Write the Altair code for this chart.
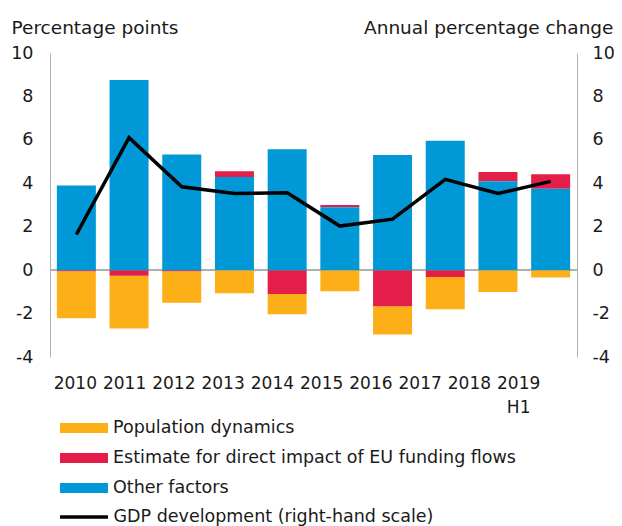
import altair as alt
import pandas as pd

years = ["2010", "2011", "2012", "2013", "2014", "2015", "2016", "2017", "2018", "2019 H1"]
population = [-2.17, -2.43, -1.45, -1.06, -0.93, -0.97, -1.30, -1.48, -1.01, -0.34]
eu_funds = [-0.05, -0.26, -0.05, 0.27, -1.10, 0.10, -1.66, -0.32, 0.43, 0.67]
other = [3.90, 8.76, 5.33, 4.29, 5.57, 2.90, 5.30, 5.96, 4.09, 3.75]
gdp = [1.64, 6.10, 3.84, 3.53, 3.56, 2.03, 2.35, 4.18, 3.53, 4.09]

S_POP = "Population dynamics"
S_EU = "Estimate for direct impact of EU funding flows"
S_OTH = "Other factors"
S_GDP = "GDP development (right-hand scale)"

bar_names = [S_POP, S_EU, S_OTH]
bar_colors = ["#FCAF17", "#E31E48", "#0098D6"]
stack_rank = {S_OTH: 0, S_EU: 1, S_POP: 2}

rows = []
for name, vals in [(S_POP, population), (S_EU, eu_funds), (S_OTH, other)]:
    for y, v in zip(years, vals):
        rows.append({"year": y, "series": name, "value": v, "rank": stack_rank[name]})
bars_df = pd.DataFrame(rows)
gdp_df = pd.DataFrame({"year": years, "gdp": gdp, "series": S_GDP})

FONT = "DejaVu Sans"
FS = 17.5
TFS = 18.5
GRAY = "#b0b0b0"
TXT = "#1a1a1a"
NEG_LABEL = "datum.value < 0 ? '-' + abs(datum.value) : datum.label"

x_enc = alt.X(
    "year:N",
    sort=years,
    scale=alt.Scale(paddingInner=0.26, paddingOuter=0.13),
    axis=alt.Axis(
        title=None, domain=False, ticks=False, labelAngle=0,
        labelFontSize=17, labelPadding=18, labelLineHeight=24,
        labelColor=TXT,
        labelExpr="datum.value == '2019 H1' ? ['2019', 'H1'] : datum.value",
        labelOffset=alt.ExprRef(expr="-1 - 31 * datum.index"),
    ),
)

bar_legend = alt.Legend(
    title=None, orient="none", legendX=22, legendY=363, direction="vertical",
    symbolType="M-2,-0.4167H2V0.4167H-2Z", symbolSize=576, symbolStrokeWidth=0,
    labelFontSize=FS, labelFont=FONT, labelColor=TXT, labelOffset=17,
    rowPadding=9, padding=0, labelLimit=600,
)

line_legend = alt.Legend(
    title=None, orient="none", legendX=8, legendY=438, direction="vertical",
    symbolType="stroke", symbolSize=2304, symbolStrokeWidth=3.5,
    labelFontSize=FS, labelFont=FONT, labelColor=TXT, labelOffset=3.5,
    padding=0, labelLimit=600,
)

y_left = alt.Y(
    "value:Q",
    stack="zero",
    scale=alt.Scale(domain=[-4, 10], nice=False, zero=False),
    axis=alt.Axis(
        values=[-4, -2, 0, 2, 4, 6, 8, 10], ticks=False, grid=False,
        domainColor=GRAY, labelFontSize=FS, labelPadding=17, labelColor=TXT,
        labelExpr=NEG_LABEL,
        title="Percentage points", titleAngle=0, titleAlign="left",
        titleBaseline="alphabetic", titleX=-39, titleY=-19.5,
        titleFontSize=TFS, titleFontWeight="normal", titleColor=TXT,
    ),
)

bars = alt.Chart(bars_df).mark_bar().encode(
    x=x_enc,
    y=y_left,
    fill=alt.Fill("series:N", scale=alt.Scale(domain=bar_names, range=bar_colors), legend=bar_legend),
    order=alt.Order("rank:Q", sort="ascending"),
)

zero_rule = alt.Chart(bars_df).mark_rule(color=GRAY, strokeWidth=1.3).encode(
    y=alt.datum(0)
)

left = alt.layer(zero_rule, bars)

line = alt.Chart(gdp_df).mark_line(strokeWidth=3.5, strokeJoin="miter").encode(
    x=x_enc,
    y=alt.Y(
        "gdp:Q",
        scale=alt.Scale(domain=[-4, 10], nice=False, zero=False),
        axis=alt.Axis(
            orient="right", values=[-4, -2, 0, 2, 4, 6, 8, 10], ticks=False, grid=False,
            domainColor=GRAY, labelFontSize=FS, labelPadding=15, labelColor=TXT,
            labelExpr=NEG_LABEL,
            title="Annual percentage change", titleAngle=0, titleAlign="right",
            titleBaseline="alphabetic", titleX=36, titleY=-19.5,
            titleFontSize=TFS, titleFontWeight="normal", titleColor=TXT,
        ),
    ),
    stroke=alt.Stroke("series:N", scale=alt.Scale(domain=[S_GDP], range=["#000000"]), legend=line_legend),
)

chart = (
    alt.layer(left, line)
    .resolve_scale(y="independent")
    .properties(
        width=527, height=304,
        autosize=alt.AutoSizeParams(type="none"),
        padding={"left": 42, "top": 45, "right": 37, "bottom": 169},
    )
    .configure(font=FONT)
    .configure_view(stroke=None)
)

chart.save("out.html", embed_options={"renderer": "svg", "actions": False})
